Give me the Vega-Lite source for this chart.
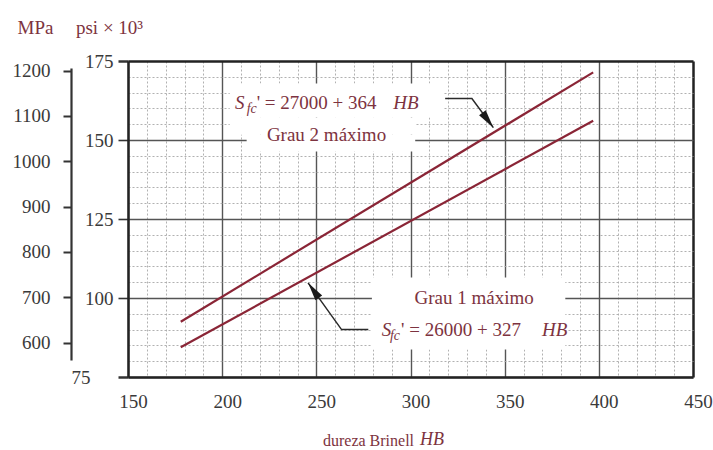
{
  "$schema": "https://vega.github.io/schema/vega-lite/v6.json",
  "width": 565,
  "height": 316,
  "autosize": {"type": "none"},
  "padding": {"left": 128, "top": 61, "right": 20, "bottom": 73},
  "background": "white",
  "config": {"view": {"stroke": null}, "font": "Liberation Serif"},
  "datasets": {
    "lines": [
      {"grade": "Grau 2", "HB": 178, "kpsi": 92.5},
      {"grade": "Grau 2", "HB": 397, "kpsi": 171.4},
      {"grade": "Grau 1", "HB": 178, "kpsi": 84.4},
      {"grade": "Grau 1", "HB": 397, "kpsi": 156.1}
    ],
    "mpa": [{"MPa": 600}, {"MPa": 700}, {"MPa": 800}, {"MPa": 900}, {"MPa": 1000}, {"MPa": 1100}, {"MPa": 1200}],
    "boxes": [
      {"HB": 204.0, "HB2": 317.3, "kpsi": 167.9, "kpsi2": 157.1},
      {"HB": 204.0, "HB2": 302.5, "kpsi": 157.1, "kpsi2": 151.7},
      {"HB": 213.0, "HB2": 302.5, "kpsi": 151.7, "kpsi2": 146.4},
      {"HB": 279.5, "HB2": 382.2, "kpsi": 106.5, "kpsi2": 83.7}
    ],
    "arrows": [
      {"arrow": "a2", "order": 1, "HB": 318.4, "kpsi": 163.1},
      {"arrow": "a2", "order": 2, "HB": 332.6, "kpsi": 163.1},
      {"arrow": "a2", "order": 3, "HB": 344.0, "kpsi": 153.9},
      {"arrow": "a1", "order": 1, "HB": 277.6, "kpsi": 90.0},
      {"arrow": "a1", "order": 2, "HB": 263.4, "kpsi": 90.0},
      {"arrow": "a1", "order": 3, "HB": 245.6, "kpsi": 104.8}
    ],
    "centerText": [
      {"label": "Grau 2 máximo", "HB": 255.4, "kpsi": 151.7},
      {"label": "Grau 1 máximo", "HB": 333.8, "kpsi": 100.1}
    ],
    "leftText": [
      {"label": "' = 27000 + 364", "HB": 218.3, "kpsi": 161.6},
      {"label": "' = 26000 + 327", "HB": 295.0, "kpsi": 90.0}
    ],
    "italicText": [
      {"label": "S", "HB": 206.8, "kpsi": 161.6},
      {"label": "HB", "HB": 290.9, "kpsi": 161.6},
      {"label": "S", "HB": 284.7, "kpsi": 90.0},
      {"label": "HB", "HB": 369.8, "kpsi": 90.0}
    ],
    "subText": [
      {"label": "fc", "HB": 213.0, "kpsi": 159.8},
      {"label": "fc", "HB": 289.1, "kpsi": 88.1}
    ],
    "titleText": [
      {"label": "HB", "HB": 305.1, "kpsi": 55.06}
    ]
  },
  "layer": [
    {
      "data": {"name": "lines"},
      "mark": {"type": "point", "opacity": 0},
      "encoding": {
        "x": {"field": "HB", "type": "quantitative", "scale": {"domain": [150, 450], "nice": false, "zero": false},
          "axis": {"orient": "bottom", "values": [160, 170, 180, 190, 210, 220, 230, 240, 260, 270, 280, 290, 310, 320, 330, 340, 360, 370, 380, 390, 410, 420, 430, 440],
            "grid": true, "gridDash": [2, 2], "gridColor": "#a8a8a8", "gridWidth": 0.9, "domain": false, "ticks": false, "labels": false, "title": null}},
        "y": {"field": "kpsi", "type": "quantitative", "scale": {"domain": [75, 175], "nice": false, "zero": false},
          "axis": {"orient": "left", "values": [80, 85, 90, 95, 105, 110, 115, 120, 130, 135, 140, 145, 155, 160, 165, 170],
            "grid": true, "gridDash": [2, 2], "gridColor": "#a8a8a8", "gridWidth": 0.9, "domain": false, "ticks": false, "labels": false, "title": null}}
      }
    },
    {
      "data": {"name": "lines"},
      "mark": {"type": "point", "opacity": 0},
      "encoding": {
        "x": {"field": "HB", "type": "quantitative", "scale": {"domain": [150, 450], "nice": false, "zero": false},
          "axis": {"orient": "bottom", "values": [150, 200, 250, 300, 350, 400, 450], "format": "d",
            "grid": true,
            "gridColor": {"condition": {"test": "datum.value == 450", "value": "#222222"}, "value": "#555555"},
            "gridWidth": {"condition": {"test": "datum.value == 450", "value": 2.5}, "value": 1.4},
            "domain": true, "domainColor": "#222222", "domainWidth": 2.5,
            "ticks": false, "tickSize": 0,
            "labelFont": "Liberation Serif", "labelFontSize": 19, "labelColor": "#3a3a3a",
            "labelOffset": 5, "labelPadding": 24, "labelBaseline": "middle", "labelFlush": false,
            "title": "dureza Brinell", "titleFont": "Liberation Serif", "titleFontSize": 16, "titleFontWeight": "normal",
            "titleColor": "#7d3340", "titleX": 240, "titleY": 63, "titleAlign": "center", "titleBaseline": "middle", "titleAnchor": null}},
        "y": {"field": "kpsi", "type": "quantitative", "scale": {"domain": [75, 175], "nice": false, "zero": false},
          "axis": {"orient": "left", "values": [75, 100, 125, 150, 175], "format": "d",
            "grid": true,
            "gridColor": {"condition": {"test": "datum.value == 175", "value": "#222222"}, "value": "#555555"},
            "gridWidth": {"condition": {"test": "datum.value == 175", "value": 2.5}, "value": 1.4},
            "domain": true, "domainColor": "#222222", "domainWidth": 2.5,
            "ticks": true, "tickSize": 10, "tickColor": "#333333",
            "tickWidth": {"condition": {"test": "datum.value == 75 || datum.value == 175", "value": 2.5}, "value": 1.6},
            "labelFont": "Liberation Serif", "labelFontSize": 19, "labelColor": "#3a3a3a",
            "labelPadding": {"condition": {"test": "datum.value == 75", "value": 28}, "value": 5},
            "labelFlush": false,
            "title": "psi × 10³", "titleFont": "Liberation Serif", "titleFontSize": 19, "titleFontWeight": "normal",
            "titleColor": "#7d3340", "titleAngle": 0, "titleX": -19, "titleY": -34, "titleAlign": "center", "titleBaseline": "middle", "titleAnchor": null}}
      }
    },
    {
      "data": {"name": "mpa"},
      "mark": {"type": "point", "opacity": 0},
      "encoding": {
        "y": {"field": "MPa", "type": "quantitative", "scale": {"domain": [524, 1221], "nice": false, "zero": false},
          "axis": {"orient": "left", "offset": 57, "values": [600, 700, 800, 900, 1000, 1100, 1200], "format": "d",
            "grid": false, "domain": true, "domainColor": "#333333", "domainWidth": 2.2,
            "domainDash": [292, 24], "domainDashOffset": 299,
            "ticks": true, "tickSize": 8, "tickWidth": 2, "tickColor": "#333333",
            "labelFont": "Liberation Serif", "labelFontSize": 19, "labelColor": "#3a3a3a", "labelPadding": 13, "labelFlush": false,
            "title": "MPa", "titleFont": "Liberation Serif", "titleFontSize": 19, "titleFontWeight": "normal",
            "titleColor": "#7d3340", "titleAngle": 0, "titleX": -36, "titleY": -34, "titleAlign": "center", "titleBaseline": "middle", "titleAnchor": null}}
      }
    },
    {
      "data": {"name": "boxes"},
      "mark": {"type": "rect", "color": "white"},
      "encoding": {
        "x": {"field": "HB", "type": "quantitative", "scale": {"domain": [150, 450], "nice": false, "zero": false}, "axis": null},
        "x2": {"field": "HB2"},
        "y": {"field": "kpsi", "type": "quantitative", "scale": {"domain": [75, 175], "nice": false, "zero": false}, "axis": null},
        "y2": {"field": "kpsi2"}
      }
    },
    {
      "data": {"name": "lines"},
      "mark": {"type": "line", "color": "#8a2536", "strokeWidth": 2.2},
      "encoding": {
        "x": {"field": "HB", "type": "quantitative", "scale": {"domain": [150, 450], "nice": false, "zero": false}, "axis": null},
        "y": {"field": "kpsi", "type": "quantitative", "scale": {"domain": [75, 175], "nice": false, "zero": false}, "axis": null},
        "detail": {"field": "grade"}
      }
    },
    {
      "data": {"name": "arrows"},
      "mark": {"type": "line", "color": "#2a2a2a", "strokeWidth": 1.5},
      "encoding": {
        "x": {"field": "HB", "type": "quantitative", "scale": {"domain": [150, 450], "nice": false, "zero": false}, "axis": null},
        "y": {"field": "kpsi", "type": "quantitative", "scale": {"domain": [75, 175], "nice": false, "zero": false}, "axis": null},
        "detail": {"field": "arrow"},
        "order": {"field": "order"}
      }
    },
    {
      "data": {"name": "arrows"},
      "transform": [{"filter": "datum.arrow == 'a2' && datum.order == 3"}],
      "mark": {"type": "point", "shape": "M0,0L-0.45,2L0.45,2Z", "size": 340, "filled": true, "color": "#1a1a1a", "opacity": 1, "angle": 143.6},
      "encoding": {
        "x": {"field": "HB", "type": "quantitative", "scale": {"domain": [150, 450], "nice": false, "zero": false}, "axis": null},
        "y": {"field": "kpsi", "type": "quantitative", "scale": {"domain": [75, 175], "nice": false, "zero": false}, "axis": null}
      }
    },
    {
      "data": {"name": "arrows"},
      "transform": [{"filter": "datum.arrow == 'a1' && datum.order == 3"}],
      "mark": {"type": "point", "shape": "M0,0L-0.45,2L0.45,2Z", "size": 340, "filled": true, "color": "#1a1a1a", "opacity": 1, "angle": 324.4},
      "encoding": {
        "x": {"field": "HB", "type": "quantitative", "scale": {"domain": [150, 450], "nice": false, "zero": false}, "axis": null},
        "y": {"field": "kpsi", "type": "quantitative", "scale": {"domain": [75, 175], "nice": false, "zero": false}, "axis": null}
      }
    },
    {
      "data": {"name": "centerText"},
      "mark": {"type": "text", "font": "Liberation Serif", "fontSize": 19, "color": "#7d3340", "align": "center", "baseline": "middle"},
      "encoding": {
        "x": {"field": "HB", "type": "quantitative", "scale": {"domain": [150, 450], "nice": false, "zero": false}, "axis": null},
        "y": {"field": "kpsi", "type": "quantitative", "scale": {"domain": [75, 175], "nice": false, "zero": false}, "axis": null},
        "text": {"field": "label"}
      }
    },
    {
      "data": {"name": "leftText"},
      "mark": {"type": "text", "font": "Liberation Serif", "fontSize": 19, "color": "#7d3340", "align": "left", "baseline": "middle"},
      "encoding": {
        "x": {"field": "HB", "type": "quantitative", "scale": {"domain": [150, 450], "nice": false, "zero": false}, "axis": null},
        "y": {"field": "kpsi", "type": "quantitative", "scale": {"domain": [75, 175], "nice": false, "zero": false}, "axis": null},
        "text": {"field": "label"}
      }
    },
    {
      "data": {"name": "italicText"},
      "mark": {"type": "text", "font": "Liberation Serif", "fontSize": 19, "fontStyle": "italic", "color": "#7d3340", "align": "left", "baseline": "middle"},
      "encoding": {
        "x": {"field": "HB", "type": "quantitative", "scale": {"domain": [150, 450], "nice": false, "zero": false}, "axis": null},
        "y": {"field": "kpsi", "type": "quantitative", "scale": {"domain": [75, 175], "nice": false, "zero": false}, "axis": null},
        "text": {"field": "label"}
      }
    },
    {
      "data": {"name": "subText"},
      "mark": {"type": "text", "font": "Liberation Serif", "fontSize": 14, "fontStyle": "italic", "color": "#7d3340", "align": "left", "baseline": "middle"},
      "encoding": {
        "x": {"field": "HB", "type": "quantitative", "scale": {"domain": [150, 450], "nice": false, "zero": false}, "axis": null},
        "y": {"field": "kpsi", "type": "quantitative", "scale": {"domain": [75, 175], "nice": false, "zero": false}, "axis": null},
        "text": {"field": "label"}
      }
    },
    {
      "data": {"name": "titleText"},
      "mark": {"type": "text", "font": "Liberation Serif", "fontSize": 18, "fontStyle": "italic", "color": "#7d3340", "align": "left", "baseline": "middle"},
      "encoding": {
        "x": {"field": "HB", "type": "quantitative", "scale": {"domain": [150, 450], "nice": false, "zero": false}, "axis": null},
        "y": {"field": "kpsi", "type": "quantitative", "scale": {"domain": [75, 175], "nice": false, "zero": false}, "axis": null},
        "text": {"field": "label"}
      }
    }
  ],
  "resolve": {"scale": {"y": "independent"}, "axis": {"x": "independent", "y": "independent"}}
}
